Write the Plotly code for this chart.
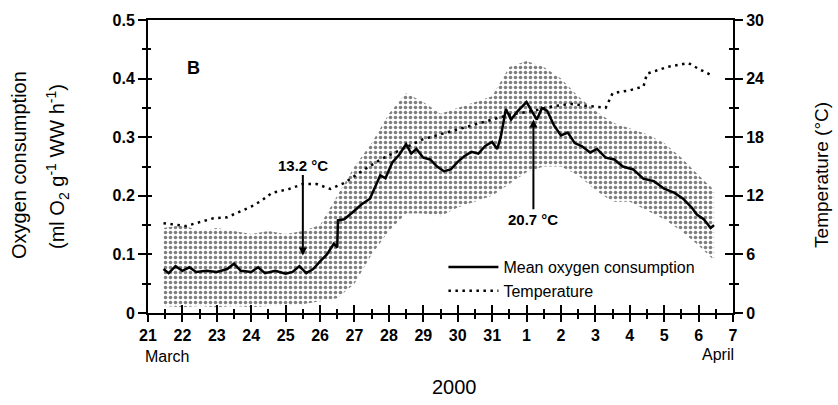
import plotly.graph_objects as go

# x positions are days after 21 March 2000 (0 = 21 March, 11 = 1 April)
tick_vals = list(range(0, 18))
tick_text = ["21", "22", "23", "24", "25", "26", "27", "28", "29", "30", "31",
             "1", "2", "3", "4", "5", "6", "7"]

# individual observations cloud: upper / lower envelope (ml O2 g-1 WW h-1)
day_env = [0.45, 1.0, 1.5, 2.0, 2.5, 3.0, 3.5, 4.0, 4.5, 5.0, 5.5, 6.0, 6.5, 7.0,
           7.5, 8.0, 8.5, 9.0, 9.5, 10.0, 10.5, 11.0, 11.5, 12.0, 12.5, 13.0,
           13.5, 14.0, 14.5, 15.0, 15.5, 16.0, 16.45]
o2_upper = [0.145, 0.15, 0.14, 0.145, 0.14, 0.135, 0.14, 0.135, 0.14, 0.15, 0.20,
            0.25, 0.29, 0.34, 0.375, 0.36, 0.34, 0.35, 0.36, 0.37, 0.42, 0.43,
            0.42, 0.40, 0.37, 0.345, 0.325, 0.315, 0.305, 0.29, 0.265, 0.235, 0.21]
o2_lower = [0.012, 0.01, 0.012, 0.01, 0.012, 0.01, 0.012, 0.012, 0.015, 0.02, 0.025,
            0.05, 0.10, 0.14, 0.17, 0.17, 0.165, 0.18, 0.19, 0.20, 0.22, 0.24,
            0.25, 0.25, 0.235, 0.21, 0.19, 0.19, 0.175, 0.16, 0.14, 0.115, 0.09]

# mean oxygen consumption
day_mean = [0.45, 0.6, 0.8, 1.0, 1.2, 1.4, 1.7, 2.0, 2.3, 2.5, 2.7, 3.0, 3.2, 3.4,
            3.7, 4.0, 4.2, 4.4, 4.6, 4.8, 5.0, 5.2, 5.4, 5.5, 5.52, 5.7, 5.95, 6.2,
            6.45, 6.6, 6.75, 6.9, 7.1, 7.3, 7.5, 7.65, 7.8, 8.0, 8.2, 8.4, 8.6,
            8.8, 9.0, 9.2, 9.4, 9.6, 9.8, 10.0, 10.15, 10.25, 10.4, 10.55, 10.75,
            11.0, 11.15, 11.3, 11.45, 11.6, 11.8, 12.0, 12.2, 12.4, 12.6, 12.85,
            13.05, 13.3, 13.55, 13.8, 14.1, 14.4, 14.7, 15.0, 15.3, 15.55, 15.8,
            15.95, 16.15, 16.35, 16.45]
o2_mean = [0.075, 0.068, 0.080, 0.072, 0.078, 0.070, 0.072, 0.070, 0.075, 0.084,
           0.072, 0.070, 0.078, 0.068, 0.072, 0.067, 0.070, 0.080, 0.068, 0.075,
           0.088, 0.100, 0.118, 0.112, 0.158, 0.160, 0.172, 0.185, 0.195, 0.215,
           0.235, 0.230, 0.257, 0.270, 0.288, 0.272, 0.280, 0.265, 0.262, 0.250,
           0.242, 0.245, 0.258, 0.268, 0.275, 0.272, 0.285, 0.292, 0.280, 0.300,
           0.348, 0.330, 0.345, 0.360, 0.345, 0.330, 0.350, 0.345, 0.320, 0.303,
           0.308, 0.290, 0.285, 0.274, 0.280, 0.265, 0.262, 0.250, 0.245, 0.229,
           0.225, 0.212, 0.205, 0.195, 0.180, 0.168, 0.160, 0.145, 0.150]

# water temperature (°C)
day_temp = [0.45, 0.8, 1.1, 1.5, 1.9, 2.3, 2.7, 3.0, 3.3, 3.6, 4.1, 4.5, 4.9, 5.3,
            5.7, 6.2, 6.8, 7.5, 8.0, 8.5, 9.0, 9.5, 10.0, 10.5, 11.2, 11.8, 12.3,
            12.85, 13.3, 13.5, 14.0, 14.4, 14.5, 15.1, 15.7, 16.0, 16.4]
temp = [9.2, 9.0, 8.9, 9.3, 9.7, 9.8, 10.4, 10.9, 11.5, 12.3, 12.7, 13.2, 13.2,
        12.7, 13.3, 14.5, 15.8, 17.0, 17.8, 18.3, 18.8, 19.3, 19.8, 20.3, 20.7,
        21.2, 21.4, 21.2, 21.0, 22.5, 22.8, 23.2, 24.5, 25.2, 25.6, 25.0, 24.3]

FONT = "Liberation Sans, Arial, sans-serif"
TICKFONT = dict(family=FONT, size=16, color="black", weight="bold")

fig = go.Figure()
fig.add_trace(go.Scatter(x=day_env, y=o2_lower, mode="lines",
                         line=dict(width=0, color="black"), showlegend=False,
                         hoverinfo="skip"))
fig.add_trace(go.Scatter(x=day_env, y=o2_upper, mode="lines",
                         line=dict(width=0, color="black"), fill="tonexty",
                         fillcolor="white",
                         fillpattern=dict(shape=".", size=5, solidity=0.4,
                                          fgcolor="black", bgcolor="white"),
                         showlegend=False, hoverinfo="skip"))
fig.add_trace(go.Scatter(x=day_mean, y=o2_mean, mode="lines",
                         name="Mean oxygen consumption",
                         line=dict(color="black", width=2.5)))
fig.add_trace(go.Scatter(x=day_temp, y=temp, mode="lines", name="Temperature",
                         yaxis="y2", line=dict(color="black", width=2.5, dash="2.5px,4.5px")))

axis_common = dict(showgrid=False, zeroline=False, linecolor="black",
                   tickcolor="black", tickfont=TICKFONT)

fig.update_layout(
    width=838, height=405,
    margin=dict(l=148, r=105, t=16, b=92),
    paper_bgcolor="white", plot_bgcolor="white",
    font=dict(family=FONT, color="black"),
    xaxis=dict(range=[0, 17], tickmode="array", tickvals=tick_vals, ticktext=tick_text,
               ticks="outside", ticklen=7, tickwidth=2, showline=True, linewidth=2,
               mirror=True,
               minor=dict(dtick=0.5, ticks="outside", ticklen=4, tickwidth=1.5,
                          tickcolor="black"),
               **axis_common),
    xaxis3=dict(range=[0, 17], overlaying="x", anchor="y", side="bottom",
                tickmode="array", tickvals=tick_vals, showticklabels=False,
                ticks="inside", ticklen=8, tickwidth=2, showline=False,
                minor=dict(dtick=0.5, ticks="inside", ticklen=4, tickwidth=1.5,
                           tickcolor="black"),
                showgrid=False, zeroline=False, tickcolor="black"),
    yaxis=dict(range=[0, 0.5], dtick=0.1, ticks="outside", ticklen=8, tickwidth=2,
               showline=True, linewidth=2,
               minor=dict(dtick=0.05, ticks="outside", ticklen=4, tickwidth=1.5,
                          tickcolor="black"),
               **axis_common),
    yaxis3=dict(range=[0, 0.5], dtick=0.1, overlaying="y", anchor="x", side="left",
                showticklabels=False, ticks="inside", ticklen=4, tickwidth=2,
                minor=dict(dtick=0.05, ticks="inside", ticklen=3, tickwidth=1.5,
                           tickcolor="black"),
                showgrid=False, zeroline=False, showline=False, tickcolor="black"),
    yaxis2=dict(range=[0, 30], dtick=6, overlaying="y", side="right", anchor="x",
                ticks="outside", ticklen=8, tickwidth=2, showline=True, linewidth=2,
                minor=dict(dtick=3, ticks="outside", ticklen=4, tickwidth=1.5,
                           tickcolor="black"),
                **axis_common),
    yaxis4=dict(range=[0, 30], dtick=6, overlaying="y", side="right", anchor="x",
                showticklabels=False, ticks="inside", ticklen=8, tickwidth=2,
                minor=dict(dtick=3, ticks="inside", ticklen=4, tickwidth=1.5,
                           tickcolor="black"),
                showgrid=False, zeroline=False, showline=False, tickcolor="black"),
    legend=dict(x=0.505, y=0.215, xanchor="left", yanchor="top", traceorder="normal",
                bgcolor="rgba(0,0,0,0)", font=dict(family=FONT, size=16, color="black"),
                tracegroupgap=0, itemwidth=50),
    showlegend=True,
)

# dummy traces to activate overlay tick axes
fig.add_trace(go.Scatter(x=[None], y=[None], xaxis="x3", yaxis="y3", showlegend=False))
fig.add_trace(go.Scatter(x=[None], y=[None], xaxis="x", yaxis="y4", showlegend=False))

ann_font = dict(family=FONT, size=15, color="black", weight="bold")
W, H = 585.0, 297.0
def px_x(p):
    return (p - 148) / W
def px_y(p):
    return (313 - p) / H

def label(xp, yp, text, size, angle=0, bold=False):
    fig.add_annotation(xref="paper", yref="paper", x=px_x(xp), y=px_y(yp), text=text,
                       xanchor="center", yanchor="middle", textangle=angle,
                       showarrow=False,
                       font=dict(family=FONT, size=size, color="black",
                                 weight="bold" if bold else "normal"))

fig.add_annotation(x=4.5, y=0.098, ax=4.5, ay=0.2525, axref="x", ayref="y",
                   text="13.2 °C", showarrow=True, arrowhead=2, arrowsize=0.8,
                   arrowwidth=2, arrowcolor="black", font=ann_font)
fig.add_annotation(x=11.2, y=0.33, ax=11.2, ay=0.16, axref="x", ayref="y",
                   text="20.7 °C", showarrow=True, arrowhead=2, arrowsize=0.8,
                   arrowwidth=2, arrowcolor="black", font=ann_font)
label(193, 65, "B", 18, bold=True)
label(167, 357, "March", 16)
label(718, 355, "April", 16)
label(454, 388, "2000", 20)
label(19, 163, "Oxygen consumption", 20, angle=-90)
label(58, 165, "(ml O<sub>2</sub> g<sup>-1</sup> WW h<sup>-1</sup>)", 20, angle=-90)
label(822, 173, "Temperature (°C)", 19, angle=-90)

fig.write_html("out.html")
